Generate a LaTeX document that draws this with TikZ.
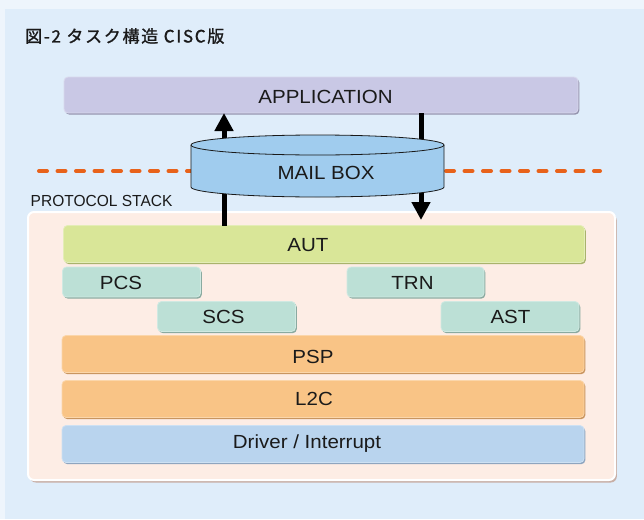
\documentclass[tikz,border=0pt]{standalone}
\usepackage{fontspec}
\usetikzlibrary{arrows.meta,shadows}
\newfontfamily\labfont{Liberation Sans}[FakeStretch=1.08]
\newfontfamily\stackfont{Liberation Sans}[FakeStretch=0.97]
\newfontfamily\cjk{Noto Sans CJK JP}[LetterSpace=10, FakeBold=1.2]

\definecolor{bgC}{HTML}{DFEDFA}
\definecolor{bgL}{HTML}{EEF5FC}
\definecolor{appC}{HTML}{C9C8E5}
\definecolor{appD}{HTML}{9493AE}
\definecolor{autC}{HTML}{D9E698}
\definecolor{autD}{HTML}{A9B36C}
\definecolor{tealC}{HTML}{BCE0D6}
\definecolor{tealD}{HTML}{8AAAA0}
\definecolor{orC}{HTML}{F9C486}
\definecolor{orD}{HTML}{C9955F}
\definecolor{drvC}{HTML}{B9D4EE}
\definecolor{drvD}{HTML}{8EA5BF}
\definecolor{panelC}{HTML}{FDEDE5}
\definecolor{panelD}{HTML}{C8AFA6}
\definecolor{cylC}{HTML}{A0CCEE}
\definecolor{dashC}{HTML}{E8621A}
\definecolor{inkC}{HTML}{1A1A1A}

\tikzset{
  layer/.style 2 args={rectangle, rounded corners=4, inner sep=0, outer sep=0,
    fill=#1, draw=#1!70!white, line width=0.8,
    drop shadow={shadow xshift=1.3pt, shadow yshift=-1.6pt, fill=#2, opacity=1}},
  lbl/.style={inner sep=0, text=inkC, font=\labfont\fontsize{19}{22}\selectfont},
  bigarrow/.style={line width=5, draw=black,
    -{Triangle[width=18pt,length=18pt]}},
  cyl/.style={fill=cylC, draw=inkC, line width=0.8},
  border/.style={line width=4, draw=dashC, line cap=round,
    dash pattern=on 8 off 10.5}
}

\begin{document}
\begin{tikzpicture}[x=1pt,y=-1pt]
\useasboundingbox (0,0) rectangle (644,519);

% page background and panel
\fill[bgL] (0,0) rectangle (644,519);
\fill[bgC] (5,9) rectangle (644,519);

% title
\node[anchor=west, inner sep=0, text=inkC, font=\cjk\fontsize{17}{19}\selectfont]
  (title) at (25,36) {図-2 タスク構造 CISC版};

% application layer
\node[layer={appC}{appD}, minimum width=514, minimum height=36] (app) at (321,95) {};
\node[lbl] (applbl) at (325.5,97) {APPLICATION};

% protocol stack panel
\node[rectangle, rounded corners=6, inner sep=0, outer sep=0, fill=panelC,
      draw=white, line width=2, minimum width=587, minimum height=268,
      drop shadow={shadow xshift=1.8pt, shadow yshift=-2.5pt, fill=panelD, opacity=1}]
  (stack) at (321.5,346) {};
\node[anchor=west, inner sep=0, text=inkC, font=\stackfont\fontsize{16}{18}\selectfont]
  (stacklbl) at (30.5,201) {PROTOCOL STACK};

% boundary between application and stack
\coordinate (bl) at (39,171);
\coordinate (br) at (600,171);
\draw[border] (bl) -- (br);

% protocol layers
\node[layer={autC}{autD}, minimum width=521, minimum height=37] (aut) at (324,244) {};
\node[lbl] (autlbl) at (308,245) {AUT};

\node[layer={tealC}{tealD}, minimum width=138, minimum height=30] (pcs) at (131.5,282) {};
\node[lbl] (pcslbl) at (121,283) {PCS};
\node[layer={tealC}{tealD}, minimum width=137, minimum height=30] (trn) at (415.5,282) {};
\node[lbl] (trnlbl) at (412.5,283) {TRN};
\node[layer={tealC}{tealD}, minimum width=138, minimum height=30] (scs) at (226.5,316.5) {};
\node[lbl] (scslbl) at (223.5,317) {SCS};
\node[layer={tealC}{tealD}, minimum width=138, minimum height=30] (ast) at (510,316.5) {};
\node[lbl] (astlbl) at (510.5,317) {AST};

\node[layer={orC}{orD}, minimum width=522, minimum height=37] (psp) at (323,354) {};
\node[lbl] (psplbl) at (313,357) {PSP};
\node[layer={orC}{orD}, minimum width=522, minimum height=37] (ltc) at (323,399) {};
\node[lbl] (ltclbl) at (314,398.5) {L2C};
\node[layer={drvC}{drvD}, minimum width=522, minimum height=37] (drv) at (323,444) {};
\node[lbl] (drvlbl) at (307,443.5) {Driver / Interrupt};

% message flow through the mail box
\coordinate (upx) at (224,0);
\coordinate (downtip) at (421,220);
\draw[bigarrow] (aut.north -| upx) -- (app.south -| upx);
\draw[bigarrow] (app.south -| downtip) -- (downtip);

% mail box cylinder
\draw[cyl] (191,145) -- (191,187)
  arc[start angle=180, end angle=360, x radius=126.5pt, y radius=10pt]
  -- (444,145)
  arc[start angle=0, end angle=180, x radius=126.5pt, y radius=10pt] -- cycle;
\draw[inkC, line width=0.8] (191,145)
  arc[start angle=180, end angle=360, x radius=126.5pt, y radius=10pt];
\node[lbl] (mbox) at (326,173) {MAIL BOX};
\end{tikzpicture}
\end{document}
